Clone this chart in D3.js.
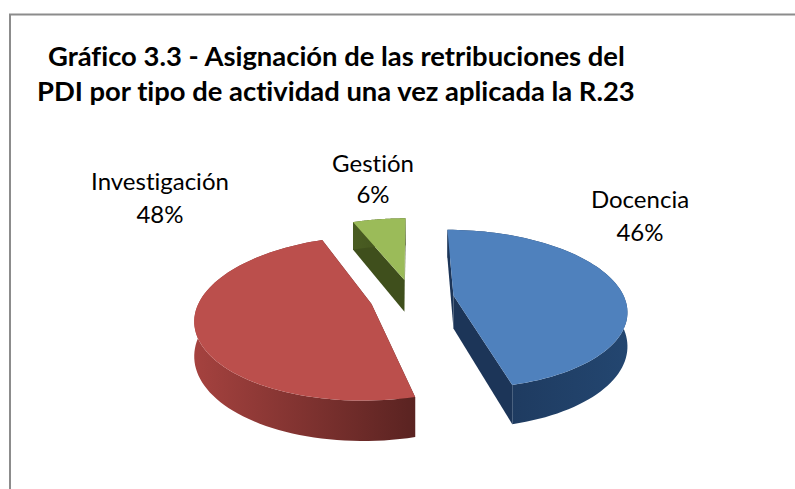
<!DOCTYPE html>
<html>
<head>
<meta charset="utf-8">
<script src="https://cdn.jsdelivr.net/npm/d3@7"></script>
<style>
  body { margin: 0; background: #fff; }
  text { font-family: Lato, Carlito, sans-serif; fill: #000; font-variant-ligatures: none; }
</style>
</head>
<body>
<div id="chart"></div>
<script>
const categorias = ["Docencia", "Investigación", "Gestión"];
const valores = [46, 48, 6];
const colorTapa = ["#4f81bd", "#bb4f4c", "#9bbb59"];
const colorLadoClaro = ["#234670", "#a5423f", "#4a5d22"];
const colorLadoOscuro = ["#1c3558", "#5a2321", "#3f4f1c"];
const etiquetaX = [640, 160, 373];
const etiquetaY = [208, 190, 172];
const etiquetaSalto = [33, 33, 31];
const titulo = [
  "Gráfico 3.3 - Asignación de las retribuciones del",
  "PDI por tipo de actividad una vez aplicada la R.23"
];

const width = 795, height = 489;

const svg = d3.select("#chart").append("svg")
  .attr("width", width)
  .attr("height", height)
  .style("display", "block");

// Marco del gráfico (solo arriba e izquierda, el resto queda cortado)
svg.append("path")
  .attr("d", "M10,489V14.5H795")
  .attr("fill", "none")
  .attr("stroke", "#8c8c8c")
  .attr("stroke-width", 2);

svg.selectAll(".titulo")
  .data(titulo)
  .enter()
  .append("text")
  .attr("class", "titulo")
  .attr("x", (d, i) => i === 0 ? 48 : 37)
  .attr("y", (d, i) => i === 0 ? 66 : 100.5)
  .attr("font-size", 27.4)
  .attr("font-weight", 700)
  .text(d => d);

// Tarta 3D: proyección en perspectiva sobre el plano del suelo
const vx = 412, y0 = 298, persp = 0.001, incl = 0.455;
const radio = 171, explosion = 42, alto = 33;

function proyecta(px, pz, h = 0) {
  const s = 1 / (1 - pz * persp);
  return [vx + px * s, y0 + (pz * incl + h) * s];
}

const pie = d3.pie().sort(null).value(d => d);
const porciones = pie(valores).map((p, i) => {
  const medio = (p.startAngle + p.endAngle) / 2;
  return {
    i,
    a0: p.startAngle,
    a1: p.endAngle,
    cx: explosion * Math.sin(medio),
    cz: -explosion * Math.cos(medio)
  };
});

const linea = d3.line();

function borde(p, h) {
  const n = 80;
  const pts = d3.range(n + 1).map(k => {
    const a = p.a0 + (p.a1 - p.a0) * k / n;
    return proyecta(p.cx + radio * Math.sin(a), p.cz - radio * Math.cos(a), h);
  });
  return pts;
}

const defs = svg.append("defs");
porciones.forEach(p => {
  const xs = borde(p, 0).map(d => d[0]);
  const g = defs.append("linearGradient")
    .attr("id", "lado" + p.i)
    .attr("gradientUnits", "userSpaceOnUse")
    .attr("x1", d3.min(xs)).attr("x2", d3.max(xs))
    .attr("y1", 0).attr("y2", 0);
  // el azul se aclara hacia la derecha, el rojo se oscurece
  const izq = p.i === 0 ? colorLadoOscuro[p.i] : colorLadoClaro[p.i];
  const der = p.i === 0 ? colorLadoClaro[p.i] : colorLadoOscuro[p.i];
  g.append("stop").attr("offset", 0).attr("stop-color", izq);
  g.append("stop").attr("offset", 1).attr("stop-color", der);
});

// orden de pintado: de atrás hacia delante
[2, 1, 0].forEach(idx => {
  const p = porciones[idx];
  const centro = proyecta(p.cx, p.cz);
  const centroB = proyecta(p.cx, p.cz, alto);
  const arriba = borde(p, 0);
  const abajo = borde(p, alto);
  const g = svg.append("g").attr("class", "porcion");

  // paredes de los cortes
  [[arriba[0], abajo[0]], [arriba[arriba.length - 1], abajo[abajo.length - 1]]].forEach(([t, b]) => {
    g.append("path")
      .attr("d", linea([centro, t, b, centroB]) + "Z")
      .attr("fill", colorLadoOscuro[p.i]);
  });
  // pared exterior
  g.append("path")
    .attr("d", linea(arriba.concat(abajo.slice().reverse())) + "Z")
    .attr("fill", `url(#lado${p.i})`);
  // tapa
  g.append("path")
    .attr("d", linea([centro].concat(arriba)) + "Z")
    .attr("fill", colorTapa[p.i]);
});

// Etiquetas
categorias.forEach((c, i) => {
  const t = svg.append("text")
    .attr("text-anchor", "middle")
    .attr("font-size", 24);
  t.append("tspan").attr("x", etiquetaX[i]).attr("y", etiquetaY[i]).text(c);
  t.append("tspan").attr("x", etiquetaX[i]).attr("y", etiquetaY[i] + etiquetaSalto[i]).text(valores[i] + "%");
});
</script>
</body>
</html>
